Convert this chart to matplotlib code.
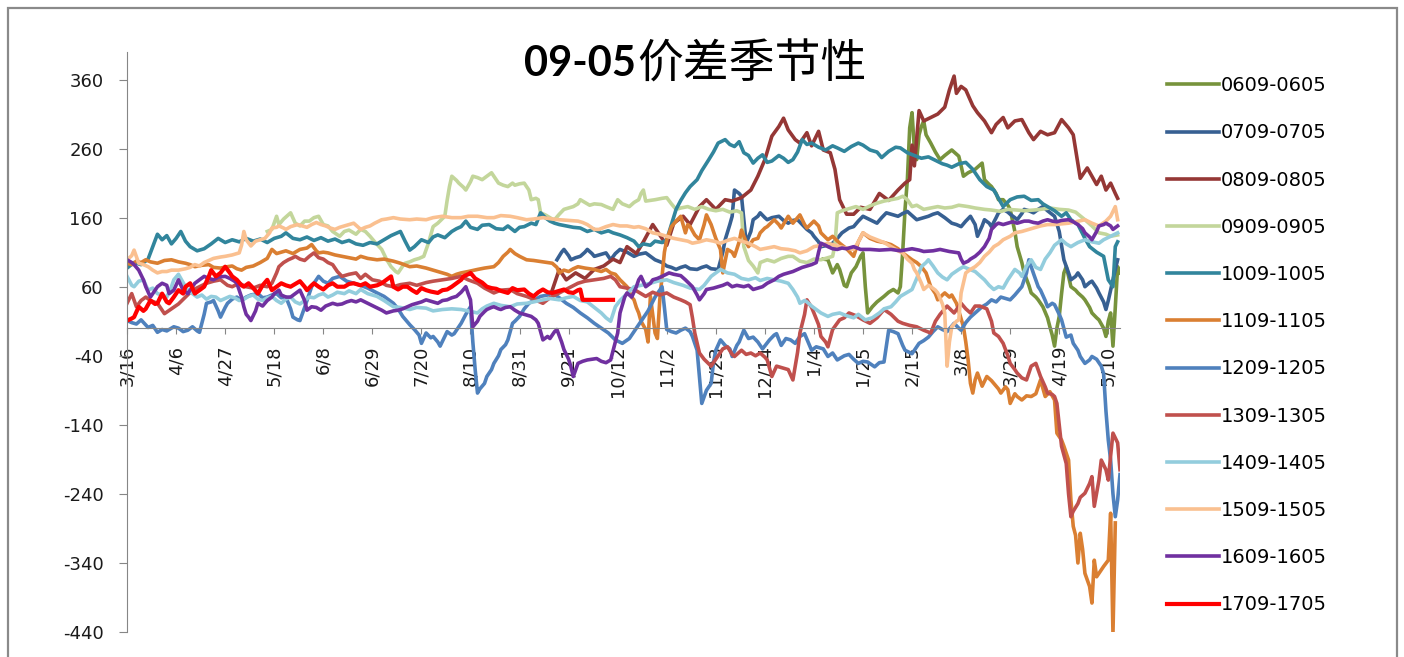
import matplotlib
matplotlib.use("Agg")
import matplotlib.pyplot as plt
from matplotlib.patches import Rectangle

plt.rcParams['axes.unicode_minus'] = False

# x = days since 3/16, y = spread
tick_days = [0, 21, 42, 63, 84, 105, 126, 147, 168, 189, 210, 231, 252, 273, 294, 315, 336, 357, 378, 399, 420]
tick_labels = ['3/16', '4/6', '4/27', '5/18', '6/8', '6/29', '7/20', '8/10', '8/31', '9/21', '10/12',
               '11/2', '11/23', '12/14', '1/4', '1/25', '2/15', '3/8', '3/29', '4/19', '5/10']

names = ['0609-0605', '0709-0705', '0809-0805', '0909-0905', '1009-1005', '1109-1105',
         '1209-1205', '1309-1305', '1409-1405', '1509-1505', '1609-1605', '1709-1705']
colors = ['#77933C', '#376092', '#953735', '#C3D69B', '#31859C', '#DA7F32',
          '#4F81BD', '#C0504D', '#93CDDD', '#FAC090', '#7030A0', '#FF0000']

s0609 = [(298,100),(300,99),(302,80),(304,92),(305,85),(307,62),(308,60),(310,80),(312,89),(314,104),(315,109),
         (316,60),(317,22),(319,31),(321,38),(324,46),(326,52),(328,56),(330,51),(331,60),(332,110),(333,172),
         (334,215),(335,290),(336,312),(337,259),(338,244),(339,280),(340,292),(341,300),(342,280),(344,268),
         (346,255),(348,244),(350,250),(353,258),(355,252),(356,249),(357,235),(358,220),(360,225),(363,230),
         (365,236),(366,239),(367,215),(369,208),(370,205),(372,195),(373,186),(375,186),(377,178),(378,172),
         (380,140),(381,118),(383,95),(384,80),(386,62),(387,51),(389,45),(390,41),(391,36),(392,31),(394,15),
         (395,2),(396,-10),(397,-26),(398,0),(399,17),(400,50),(401,80),(402,89),(403,75),(404,60),(406,55),
         (407,51),(409,45),(410,41),(412,30),(413,22),(415,15),(416,12),(418,0),(419,-12),(420,10),(421,22),
         (422,-26),(423,30),(424,89),(425,80)]

s0709 = [(184,99),(186,110),(187,114),(189,105),(190,99),(192,102),(194,104),(196,110),(197,114),(199,108),
         (200,104),(202,106),(205,109),(207,99),(209,108),(211,114),(214,110),(217,104),(219,107),(222,109),
         (224,104),(226,99),(229,95),(231,90),(233,88),(235,85),(237,88),(239,90),(241,86),(244,85),(246,88),
         (248,90),(250,86),(253,85),(255,110),(256,128),(258,150),(259,162),(260,200),(262,195),(263,191),
         (264,157),(265,123),(267,140),(268,157),(270,162),(271,167),(273,160),(274,157),(276,160),(279,162),
         (281,156),(283,152),(285,156),(287,157),(289,150),(291,143),(293,138),(294,133),(296,125),(297,118),
         (300,120),(302,123),(304,130),(306,138),(309,145),(311,147),(313,155),(315,162),(318,157),(321,152),
         (323,160),(325,167),(328,164),(330,162),(332,166),(334,169),(336,163),(338,157),(341,160),(343,162),
         (345,165),(347,167),(350,160),(353,152),(355,150),(357,147),(359,155),(361,162),(363,150),(364,133),
         (366,148),(367,157),(369,152),(370,147),(372,160),(373,167),(375,172),(377,168),(378,165),(380,160),
         (381,157),(383,166),(384,172),(386,170),(388,167),(390,172),(392,176),(394,170),(397,162),(399,140),
         (401,99),(403,80),(404,70),(406,75),(407,80),(409,70),(410,60),(412,66),(413,68),(415,58),(416,51),
         (418,38),(419,27),(420,40),(422,70),(423,85),(424,99)]

s0809 = [(182,55),(185,85),(188,70),(192,80),(196,72),(200,85),(204,90),(208,100),(211,95),(214,118),(218,108),
         (221,125),(225,150),(228,135),(231,120),(234,152),(238,162),(241,150),(245,176),(248,186),(252,172),
         (256,186),(259,184),(263,189),(267,200),(270,220),(273,244),(276,278),(279,292),(281,304),(283,287),
         (286,273),(288,268),(291,283),(293,264),(296,285),(298,258),(301,254),(303,230),(305,186),(308,165),
         (311,165),(314,175),(318,172),(322,195),(326,185),(330,200),(333,210),(335,215),(336,265),(337,235),
         (339,315),(341,300),(344,305),(347,310),(350,320),(352,345),(354,365),(355,340),(357,350),(359,345),
         (362,322),(364,312),(367,300),(370,283),(372,295),(375,305),(377,290),(380,300),(383,302),(386,283),
         (388,273),(391,285),(394,280),(397,283),(400,302),(403,290),(405,280),(408,217),(411,232),(413,220),
         (415,208),(417,220),(419,200),(421,210),(423,195),(424,188)]

s0909 = [(60,140),(62,143),(64,162),(65,150),(67,158),(70,167),(72,152),(74,148),(76,155),(78,155),(80,160),
         (82,162),(84,150),(86,148),(88,140),(91,133),(93,140),(95,142),(98,136),(100,143),(102,140),(104,133),
         (106,125),(109,114),(111,100),(113,89),(115,82),(116,80),(118,90),(119,94),(121,96),(123,99),(125,101),
         (127,104),(129,123),(131,147),(133,152),(136,162),(137,185),(138,205),(139,220),(141,214),(142,210),
         (144,204),(145,200),(147,212),(148,220),(150,218),(152,215),(154,220),(156,225),(158,215),(159,210),
         (161,207),(163,205),(165,210),(166,207),(168,209),(170,210),(172,200),(173,186),(175,188),(176,186),
         (177,167),(179,164),(180,162),(182,158),(183,157),(185,165),(187,172),(189,174),(191,176),(193,180),
         (194,186),(196,182),(198,178),(200,180),(203,179),(205,176),(208,172),(210,186),(212,180),(215,176),
         (217,182),(219,186),(220,195),(221,200),(222,184),(224,185),(226,186),(229,188),(231,189),(233,180),
         (235,172),(237,174),(240,176),(243,172),(246,176),(249,172),(252,170),(255,172),(258,168),(261,170),
         (263,167),(264,118),(266,98),(268,90),(270,80),(271,95),(274,99),(277,96),(280,101),(283,104),
         (285,104),(288,97),(291,95),(294,100),(297,99),(300,102),(302,104),(303,120),(304,167),(306,170),
         (308,172),(310,174),(312,176),(315,172),(318,177),(321,181),(324,184),(327,186),(330,188),(332,191),
         (334,186),(336,176),(338,178),(341,172),(344,174),(347,176),(350,174),(353,175),(356,178),(360,176),
         (363,174),(367,172),(370,171),(374,169),(377,172),(381,171),(384,170),(388,171),(391,172),(395,174),
         (399,172),(403,171),(406,168),(410,157),(413,148),(416,138),(419,136),(421,133),(424,135)]

s1009 = [(0,87),(3,95),(6,92),(9,100),(11,118),(13,136),(15,128),(17,134),(19,122),(21,130),(23,140),(25,126),
         (27,118),(30,112),(33,115),(36,122),(39,130),(42,124),(45,128),(48,125),(51,130),(54,126),(57,129),
         (60,124),(63,130),(66,133),(68,138),(71,130),(74,128),(77,132),(80,127),(83,131),(86,126),(89,129),
         (92,124),(95,127),(98,122),(101,120),(104,124),(107,122),(110,128),(113,134),(117,140),(119,126),
         (121,113),(123,118),(126,128),(129,124),(131,132),(133,135),(136,131),(139,140),(141,144),(143,147),
         (145,155),(147,146),(150,143),(152,149),(155,150),(158,144),(161,143),(163,148),(166,140),(168,146),
         (170,147),(173,152),(175,150),(177,167),(179,160),(181,155),(183,152),(185,150),(188,148),(191,146),
         (194,145),(197,140),(200,143),(203,138),(206,141),(208,138),(211,135),(214,131),(217,126),(219,118),
         (221,122),(224,120),(226,126),(229,124),(231,128),(233,150),(235,172),(237,185),(239,196),(241,205),
         (244,215),(246,228),(249,244),(251,255),(253,268),(256,273),(258,266),(260,263),(262,270),(264,254),
         (266,250),(268,239),(270,246),(272,251),(274,240),(276,242),(279,250),(281,246),(283,240),(285,244),
         (287,255),(289,273),(291,266),(293,268),(296,262),(299,258),(302,264),(304,261),(307,256),(310,263),
         (313,268),(315,265),(318,258),(321,255),(323,247),(326,256),(329,262),(331,261),(334,254),(337,250),
         (340,246),(343,248),(346,243),(349,238),(351,236),(353,233),(356,238),(359,240),(362,230),(365,215),
         (368,205),(371,200),(373,188),(375,176),(378,186),(381,190),(384,191),(387,185),(390,186),(392,180),
         (394,176),(397,170),(400,162),(402,167),(404,157),(407,150),(410,130),(412,118),(415,110),(418,104),
         (420,70),(422,60),(423,118),(424,125)]

s1109 = [(0,94),(2,92),(4,97),(6,95),(8,99),(10,96),(13,94),(16,98),(19,99),(22,96),(25,94),(27,92),(29,89),
         (32,91),(35,92),(37,88),(40,87),(43,89),(45,90),(47,86),(49,84),(51,88),(54,90),(57,95),(60,101),
         (62,114),(64,108),(66,110),(68,112),(71,108),(74,114),(77,116),(79,121),(81,112),(82,109),(84,110),
         (86,109),(89,106),(92,104),(95,102),(98,100),(100,104),(103,101),(107,99),(110,100),(114,97),(117,94),
         (121,89),(124,90),(128,87),(131,84),(135,80),(137,78),(139,75),(141,78),(143,80),(146,82),(150,85),
         (153,87),(157,89),(159,95),(161,104),(163,110),(164,114),(166,108),(168,104),(171,99),(174,98),
         (178,96),(182,94),(184,88),(185,80),(187,84),(189,82),(191,86),(193,89),(196,87),(200,85),(203,82),
         (205,85),(207,80),(209,78),(211,70),(214,60),(216,45),(217,41),(218,30),(219,22),(220,10),(222,-2),
         (223,-20),(224,46),(225,20),(226,-7),(227,-15),(228,40),(230,110),(231,128),(233,147),(235,155),
         (237,162),(239,138),(240,150),(241,147),(243,135),(245,128),(247,150),(248,164),(250,150),(252,130),
         (254,114),(255,80),(257,114),(259,110),(260,104),(262,125),(263,142),(265,125),(266,118),(268,128),
         (270,130),(271,138),(273,145),(274,147),(277,157),(279,150),(280,145),(283,162),(285,152),(288,164),
         (290,150),(291,145),(294,155),(296,148),(297,138),(300,128),(302,133),(305,123),(308,115),(311,104),
         (313,125),(315,138),(318,130),(321,126),(324,124),(327,121),(330,115),(332,109),(334,104),(336,99),
         (338,95),(340,89),(342,80),(344,60),(346,50),(347,41),(349,48),(350,51),(352,45),(353,48),(355,36),
         (356,25),(358,2),(359,-20),(360,-46),(361,-80),(362,-94),(363,-75),(364,-65),(366,-84),(368,-70),
         (370,-76),(371,-80),(373,-88),(374,-94),(376,-85),(377,-89),(378,-109),(380,-95),(381,-99),(383,-104),
         (385,-98),(387,-99),(389,-95),(391,-75),(393,-99),(395,-92),(397,-104),(398,-152),(400,-162),
         (401,-171),(403,-191),(404,-249),(405,-287),(406,-300),(407,-340),(408,-297),(409,-320),(410,-355),
         (412,-374),(413,-398),(414,-336),(415,-360),(417,-350),(418,-345),(420,-336),(421,-268),(422,-442),
         (423,-282)]

s1209 = [(0,11),(2,8),(4,6),(6,12),(9,1),(11,4),(13,-6),(15,-2),(17,-4),(20,2),(22,0),(24,-5),(26,-3),(28,2),
         (30,-4),(31,-6),(33,20),(34,36),(36,38),(37,40),(39,25),(40,16),(42,30),(43,36),(45,42),(47,45),(49,40),
         (51,45),(53,48),(56,50),(58,44),(60,45),(62,48),(64,50),(66,44),(68,45),(70,28),(71,16),(73,12),(74,11),
         (76,30),(77,40),(79,60),(81,70),(82,75),(84,68),(86,65),(88,72),(91,75),(94,68),(97,65),(100,62),
         (103,58),(107,51),(110,46),(114,36),(116,28),(118,17),(121,5),(123,-2),(125,-10),(126,-22),(128,-7),
         (130,-14),(131,-12),(133,-20),(134,-26),(136,-12),(137,-5),(139,-10),(140,-8),(142,2),(143,7),(145,20),
         (147,31),(148,-20),(149,-60),(150,-94),(151,-88),(153,-80),(154,-70),(156,-60),(157,-51),(159,-40),
         (160,-31),(162,-24),(163,-17),(165,7),(166,10),(168,17),(170,28),(172,36),(175,42),(177,46),(180,48),
         (182,51),(185,44),(188,36),(191,30),(194,22),(197,15),(200,7),(203,0),(206,-7),(209,-17),(212,-22),
         (215,-15),(218,0),(221,15),(223,25),(226,45),(229,60),(230,30),(231,-2),(233,-5),(235,-7),(237,-3),
         (239,0),(241,-5),(242,-12),(244,-32),(245,-70),(246,-109),(248,-90),(250,-80),(251,-50),(252,-32),
         (254,-17),(256,-25),(258,-30),(259,-41),(261,-25),(262,-20),(264,-3),(266,-15),(268,-13),(270,-20),
         (272,-30),(275,-17),(277,-10),(278,-8),(280,-25),(282,-15),(284,-17),(286,-22),(288,-12),(290,-8),
         (293,-32),(295,-27),(298,-30),(300,-41),(302,-36),(304,-46),(307,-40),(309,-38),(311,-45),(313,-51),
         (315,-48),(317,-49),(320,-56),(322,-50),(324,-49),(326,-3),(328,-5),(330,-8),(332,-25),(333,-32),
         (336,-37),(339,-22),(341,-18),(343,-13),(345,-5),(347,2),(349,-2),(351,-5),(354,7),(356,0),(357,-3),
         (359,8),(361,16),(364,25),(366,31),(368,35),(370,41),(372,38),(374,45),(376,43),(378,41),(380,48),
         (383,60),(385,80),(386,99),(388,79),(390,60),(391,55),(393,40),(394,31),(396,36),(397,34),(399,20),
         (400,12),(402,-13),(404,-10),(405,-22),(407,-32),(408,-41),(410,-51),(412,-46),(413,-41),(415,-45),
         (417,-55),(418,-66),(419,-120),(420,-162),(421,-191),(422,-240),(423,-273),(424,-249),(425,-212)]

s1309 = [(0,36),(2,50),(4,31),(6,40),(8,45),(10,40),(13,36),(16,21),(19,28),(22,35),(25,45),(28,55),(31,60),
         (34,65),(37,68),(40,70),(43,62),(45,60),(48,65),(51,60),(54,58),(57,62),(60,60),(62,65),(64,80),(65,89),
         (67,95),(69,99),(71,102),(72,104),(74,100),(76,98),(78,104),(80,109),(82,102),(84,100),(86,95),(88,92),
         (90,82),(92,75),(95,78),(98,80),(100,72),(102,78),(105,70),(108,68),(111,62),(114,60),(117,63),(121,65),
         (124,62),(128,66),(131,68),(135,70),(139,72),(143,75),(146,70),(150,65),(153,58),(157,51),(160,55),
         (164,56),(167,50),(171,46),(174,42),(178,36),(181,44),(185,51),(189,58),(193,65),(196,68),(200,70),
         (204,72),(207,75),(209,70),(211,60),(214,58),(217,56),(220,50),(222,46),(225,52),(228,48),(231,51),
         (234,45),(237,41),(239,38),(241,34),(242,15),(243,-7),(245,-36),(247,-45),(250,-55),(252,-45),(253,-40),
         (255,-30),(257,-27),(259,-38),(260,-41),(262,-35),(263,-32),(265,-38),(267,-36),(269,-40),(271,-36),
         (273,-42),(274,-46),(276,-70),(278,-55),(281,-58),(283,-60),(285,-75),(287,-35),(288,-7),(290,20),
         (291,41),(293,30),(294,22),(296,5),(297,-12),(299,-20),(300,-27),(302,-2),(305,12),(307,15),(309,22),
         (312,18),(315,12),(318,7),(321,15),(324,27),(327,20),(330,10),(332,7),(335,4),(338,2),(341,-3),(344,-7),
         (346,10),(348,20),(351,32),(354,22),(357,36),(359,28),(361,22),(363,32),(365,32),(368,28),(370,10),
         (371,-7),(373,-12),(375,-22),(377,-40),(378,-51),(380,-60),(381,-65),(383,-72),(385,-75),(387,-55),
         (389,-51),(391,-70),(393,-85),(394,-94),(396,-96),(397,-99),(398,-109),(399,-140),(400,-171),(402,-196),
         (403,-240),(404,-273),(405,-265),(407,-254),(408,-245),(410,-239),(412,-225),(413,-215),(414,-258),
         (416,-220),(417,-191),(419,-205),(420,-220),(421,-185),(422,-152),(424,-166),(425,-205)]

s1409 = [(0,75),(2,62),(3,60),(5,68),(7,70),(9,55),(11,58),(13,50),(15,48),(17,45),(19,60),(20,70),(22,78),
         (24,66),(26,55),(28,50),(30,45),(32,48),(34,42),(36,46),(38,45),(40,40),(42,43),(44,46),(46,44),(48,40),
         (50,42),(52,46),(54,48),(56,42),(58,40),(60,44),(62,46),(64,40),(66,36),(68,42),(70,45),(72,38),(74,35),
         (76,40),(78,45),(80,44),(82,48),(84,50),(86,45),(88,48),(90,52),(93,50),(95,54),(98,50),(100,56),
         (103,50),(107,46),(110,40),(114,31),(117,30),(121,27),(124,30),(128,29),(131,25),(135,27),(139,28),
         (143,27),(146,25),(150,22),(152,28),(154,32),(157,36),(160,33),(164,31),(167,35),(171,36),(174,38),
         (178,41),(181,43),(185,41),(188,44),(191,46),(194,40),(197,38),(200,30),(203,22),(205,15),(207,10),
         (209,31),(211,40),(214,50),(217,60),(220,62),(224,65),(227,68),(231,70),(234,66),(238,62),(241,58),
         (245,56),(247,62),(250,75),(252,80),(254,85),(257,80),(260,78),(263,72),(266,70),(269,73),(271,69),
         (274,72),(277,70),(280,68),(283,65),(285,56),(287,45),(288,36),(290,40),(291,38),(293,32),(295,27),
         (297,22),(300,17),(302,20),(305,22),(308,18),(311,15),(313,20),(316,12),(319,15),(322,22),(324,28),
         (327,31),(329,38),(331,46),(333,50),(336,56),(338,72),(340,89),(342,95),(343,99),(345,90),(347,80),
         (349,74),(351,70),(353,78),(356,85),(358,89),(360,86),(363,82),(365,76),(367,70),(369,62),(371,56),
         (373,60),(375,58),(377,70),(380,85),(382,80),(383,75),(385,90),(387,99),(389,88),(391,85),(393,100),
         (395,109),(397,120),(400,128),(402,122),(404,118),(407,124),(410,128),(413,125),(416,123),(418,128),
         (421,133),(424,138)]

s1509 = [(0,99),(2,105),(3,113),(5,94),(7,92),(9,89),(11,84),(13,80),(15,82),(17,82),(19,84),(22,84),(25,86),
         (27,88),(29,92),(31,90),(33,95),(35,98),(37,101),(40,103),(42,104),(45,106),(48,109),(49,120),(50,140),
         (51,128),(53,119),(55,126),(57,128),(59,130),(61,138),(62,145),(64,146),(65,148),(67,145),(68,143),
         (70,147),(73,150),(75,148),(77,146),(79,150),(81,153),(83,150),(85,148),(87,145),(89,143),(91,146),
         (93,148),(95,150),(97,152),(100,143),(102,146),(104,148),(106,152),(109,157),(111,158),(114,160),
         (117,158),(121,157),(124,158),(128,157),(131,160),(135,162),(139,160),(143,160),(146,162),(150,162),
         (154,160),(157,160),(160,163),(164,162),(167,160),(171,157),(174,158),(178,160),(182,158),(185,157),
         (189,156),(193,155),(195,153),(197,150),(200,143),(202,143),(205,147),(208,150),(211,148),(214,148),
         (217,146),(219,147),(222,144),(225,138),(228,136),(231,133),(234,130),(237,128),(240,126),(242,123),
         (245,125),(248,128),(251,126),(254,123),(257,127),(260,130),(263,126),(266,123),(269,118),(271,114),
         (274,116),(277,118),(280,115),(283,114),(286,112),(288,109),(291,112),(294,118),(297,120),(300,123),
         (302,121),(305,118),(308,116),(311,114),(313,125),(315,138),(318,132),(321,128),(324,124),(327,118),
         (330,112),(332,109),(334,100),(336,94),(337,85),(338,80),(340,65),(341,56),(343,62),(344,60),(346,55),
         (347,51),(349,35),(350,22),(351,-55),(352,-20),(353,2),(355,10),(356,12),(357,51),(359,80),(361,85),
         (363,89),(365,95),(367,104),(369,110),(371,118),(373,122),(375,128),(378,133),(380,138),(383,140),
         (386,143),(389,146),(391,148),(394,150),(397,150),(400,151),(403,152),(406,154),(410,157),(413,152),
         (416,148),(419,155),(421,162),(423,176),(424,157)]

s1609 = [(0,99),(2,95),(3,92),(5,84),(7,70),(8,60),(10,45),(12,55),(13,60),(15,65),(17,62),(18,50),(20,55),
         (22,70),(24,55),(26,50),(28,60),(29,65),(31,70),(33,75),(35,72),(37,70),(39,74),(42,75),(44,72),(46,68),
         (47,65),(49,45),(50,31),(51,20),(52,16),(53,11),(55,25),(56,36),(58,32),(60,40),(62,45),(63,50),(65,55),
         (66,48),(68,45),(70,45),(72,50),(74,55),(76,40),(77,26),(79,31),(81,30),(83,26),(85,32),(88,36),(90,34),
         (92,35),(94,38),(96,40),(98,38),(100,41),(103,36),(106,31),(109,26),(111,22),(114,25),(116,26),(118,28),
         (120,31),(122,34),(124,36),(126,38),(128,41),(131,38),(133,36),(135,40),(137,41),(139,44),(141,46),
         (143,52),(144,56),(145,60),(146,50),(147,41),(148,2),(150,10),(151,17),(153,24),(154,27),(156,30),
         (157,31),(159,28),(160,27),(162,30),(164,31),(166,26),(168,22),(170,20),(173,17),(175,12),(176,7),
         (177,-5),(178,-17),(180,-12),(181,-15),(183,-5),(184,-2),(186,-20),(187,-31),(189,-45),(190,-56),
         (191,-70),(193,-51),(195,-48),(197,-46),(199,-45),(201,-44),(203,-48),(205,-50),(207,-46),(209,-20),
         (210,-7),(211,22),(213,45),(214,51),(216,45),(218,60),(219,70),(220,75),(222,60),(224,65),(225,70),
         (227,72),(229,75),(232,80),(234,78),(237,76),(239,70),(242,60),(244,48),(245,41),(247,50),(248,56),
         (251,58),(253,60),(255,62),(257,65),(259,60),(261,62),(264,60),(266,62),(268,56),(270,58),(272,60),
         (274,65),(277,70),(279,75),(281,78),(283,80),(285,82),(287,85),(289,88),(291,90),(293,92),(295,95),
         (296,110),(297,123),(299,120),(300,118),(302,115),(304,114),(306,116),(308,115),(311,118),(314,114),
         (318,114),(322,113),(327,114),(331,112),(336,115),(339,113),(341,111),(345,112),(348,114),(352,111),
         (356,109),(357,100),(358,94),(360,97),(361,100),(363,104),(365,110),(367,118),(369,130),(370,143),
         (372,150),(373,152),(375,150),(377,152),(379,154),(381,152),(384,155),(386,155),(388,153),(390,152),
         (392,155),(394,157),(396,155),(398,154),(400,156),(403,157),(405,154),(407,150),(409,144),(410,138),
         (412,132),(413,128),(415,140),(416,148),(418,150),(419,152),(421,148),(422,143),(424,148)]

s1709 = [(0,11),(2,14),(3,16),(5,31),(7,25),(8,28),(10,40),(12,35),(13,36),(15,50),(17,38),(18,36),(20,45),
         (22,55),(24,50),(25,60),(27,65),(29,50),(31,55),(33,60),(35,75),(36,84),(38,75),(40,80),(42,89),(44,80),
         (45,75),(47,70),(49,62),(50,60),(52,65),(54,58),(56,50),(58,62),(60,70),(62,55),(64,60),(66,65),(68,62),
         (70,60),(72,64),(74,68),(76,60),(77,55),(79,62),(80,65),(82,60),(84,56),(86,62),(88,65),(90,60),(93,60),
         (95,64),(97,65),(100,62),(102,65),(104,60),(107,62),(109,65),(111,70),(113,75),(114,60),(116,56),
         (118,60),(120,60),(122,55),(124,51),(126,58),(128,55),(130,53),(133,51),(135,55),(137,56),(139,60),
         (141,65),(143,70),(144,75),(146,78),(147,80),(149,72),(150,70),(152,66),(154,60),(156,58),(158,57),
         (160,54),(163,51),(165,58),(167,55),(170,56),(172,50),(174,46),(176,52),(178,56),(180,52),(182,51),
         (185,54),(187,56),(189,52),(191,51),(193,55),(194,56),(195,41),(198,41),(201,41),(204,41),(208,41)]

series = [s0609, s0709, s0809, s0909, s1009, s1109, s1209, s1309, s1409, s1509, s1609, s1709]

fig = plt.figure(figsize=(14.04, 6.57), dpi=100)
ax = fig.add_axes([0.0905, 0.038, 0.7072, 0.883])

for name, color, s in zip(names, colors, series):
    x = [p[0] for p in s]
    y = [p[1] for p in s]
    lw = 3.0 if name == '1709-1705' else 2.6
    ax.plot(x, y, color=color, linewidth=lw, label=name, solid_joinstyle='round')

ax.set_xlim(0, 425)
ax.set_ylim(-440, 400)
ax.set_yticks(range(-440, 400, 100))
ax.set_xticks(tick_days)
ax.set_xticklabels(tick_labels)
ax.tick_params(axis='x', labelrotation=90, direction='out', length=4.5, color='#868686', pad=8,
               labelsize=13, labelcolor='#1a1a1a')
ax.tick_params(axis='y', direction='out', length=6, color='#868686', pad=11,
               labelsize=13, labelcolor='#1a1a1a')
for lab in ax.get_xticklabels() + ax.get_yticklabels():
    lab.set_family('DejaVu Sans')

ax.spines['top'].set_visible(False)
ax.spines['right'].set_visible(False)
ax.spines['bottom'].set_position(('data', 0))
ax.spines['bottom'].set_color('#868686')
ax.spines['left'].set_color('#868686')

# title: bold digits + CJK characters
fig.text(0.453, 0.902, '09-05', fontsize=30, fontweight='bold', family='Lato', ha='right', va='center')
fig.text(0.454, 0.902, '价差季节性', fontsize=33, family='Noto Sans CJK SC', ha='left', va='center')

fig.legend(loc='upper left', bbox_to_anchor=(0.831, 0.884), frameon=False, borderpad=0, borderaxespad=0,
           handlelength=2.7, handletextpad=0.1, labelspacing=1.45,
           prop={'family': 'DejaVu Sans', 'size': 14})

fig.patches.append(Rectangle((8 / 1404, -0.1), 1389 / 1404, 1.1 - 8 / 657, transform=fig.transFigure,
                             fill=False, edgecolor='#8a8a8a', linewidth=1.6))

fig.savefig('out.png', dpi=100)
